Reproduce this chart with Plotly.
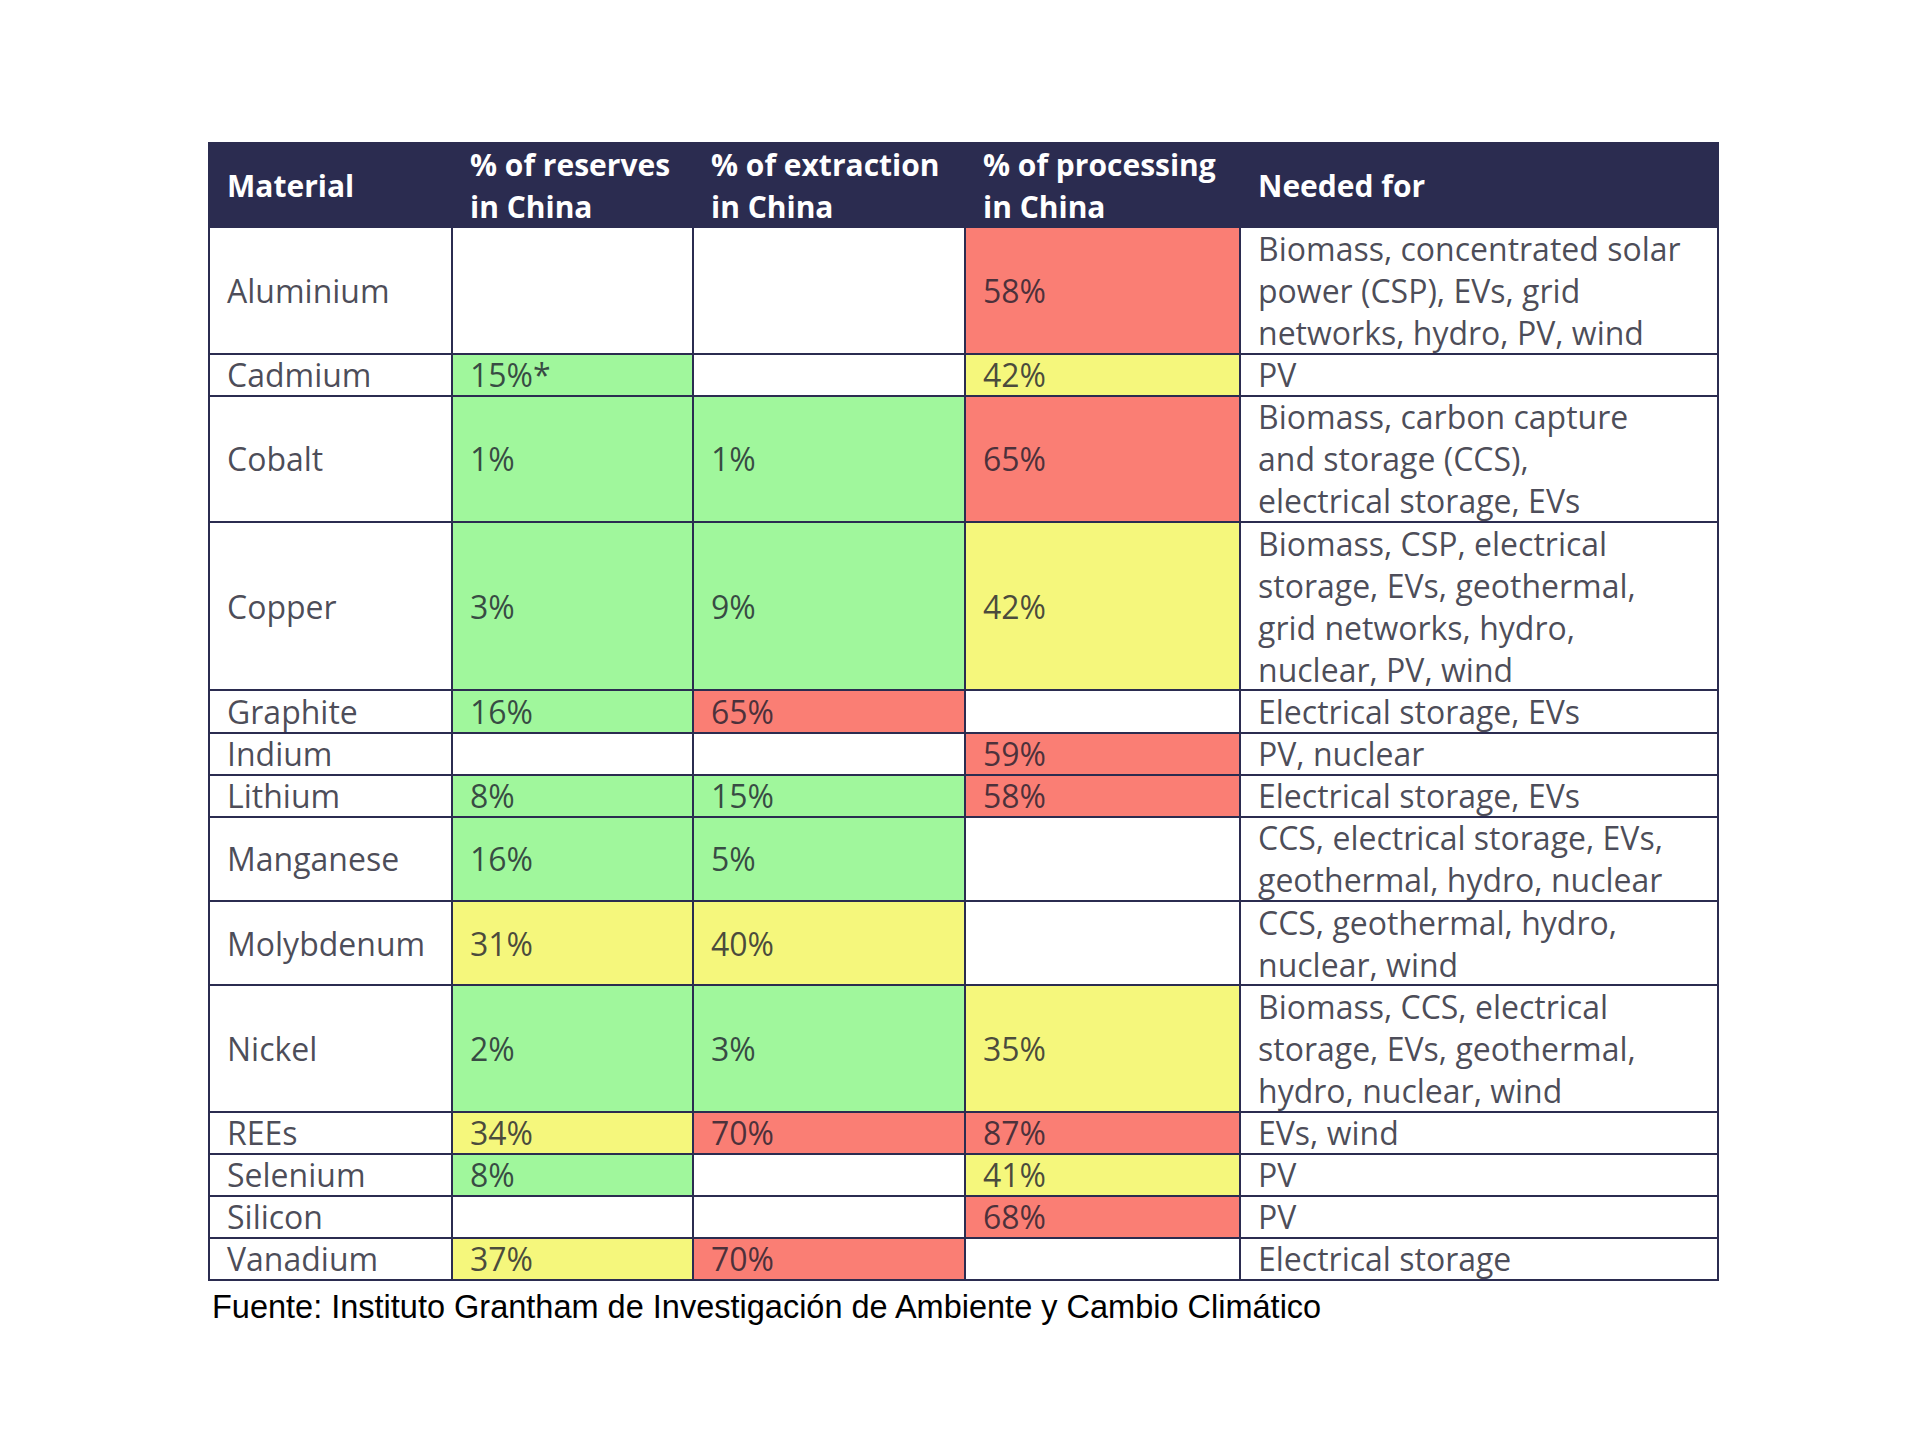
import plotly.graph_objects as go

# ---------------- data ----------------
headers = ["Material", "% of reserves<br>in China", "% of extraction<br>in China",
           "% of processing<br>in China", "Needed for"]

materials = ["Aluminium", "Cadmium", "Cobalt", "Copper", "Graphite", "Indium", "Lithium",
             "Manganese", "Molybdenum", "Nickel", "REEs", "Selenium", "Silicon", "Vanadium"]

reserves = ["", "15%*", "1%", "3%", "16%", "", "8%", "16%", "31%", "2%", "34%", "8%", "", "37%"]
extraction = ["", "", "1%", "9%", "65%", "", "15%", "5%", "40%", "3%", "70%", "", "", "70%"]
processing = ["58%", "42%", "65%", "42%", "", "59%", "58%", "", "", "35%", "87%", "41%", "68%", ""]

needed_for = [
    ["Biomass, concentrated solar", "power (CSP), EVs, grid", "networks, hydro, PV, wind"],
    ["PV"],
    ["Biomass, carbon capture", "and storage (CCS),", "electrical storage, EVs"],
    ["Biomass, CSP, electrical", "storage, EVs, geothermal,", "grid networks, hydro,", "nuclear, PV, wind"],
    ["Electrical storage, EVs"],
    ["PV, nuclear"],
    ["Electrical storage, EVs"],
    ["CCS, electrical storage, EVs,", "geothermal, hydro, nuclear"],
    ["CCS, geothermal, hydro,", "nuclear, wind"],
    ["Biomass, CCS, electrical", "storage, EVs, geothermal,", "hydro, nuclear, wind"],
    ["EVs, wind"],
    ["PV"],
    ["PV"],
    ["Electrical storage"],
]

source = "Fuente: Instituto Grantham de Investigación de Ambiente y Cambio Climático"

# ---------------- styles ----------------
COL_W = [243, 241, 272, 275, 478]
HEADER_LINES = 2
NAVY = "#2b2c50"
WHITE = "#ffffff"
GREEN = "#a0f79c"
YELLOW = "#f5f77c"
RED = "#fa7e74"
TEXT = "rgba(28,28,44,0.8)"
FONT = "Open Sans"
PAD = 16
BODY_SIZE = 32
HEAD_SIZE = 30

def code(v):
    if not v:
        return 0
    n = float(v.replace("%", "").replace("*", ""))
    if n < 30:
        return 1
    if n < 50:
        return 2
    return 3

# edges
x_edges = [0]
for w in COL_W:
    x_edges.append(x_edges[-1] + w)
row_lines = [len(n) for n in needed_for]
y_edges = [0, HEADER_LINES]
for n in row_lines:
    y_edges.append(y_edges[-1] + n)
total_lines = y_edges[-1]

# z matrix (rows x cols)
z = [[4, 4, 4, 4, 4]]
for i in range(len(materials)):
    z.append([0, code(reserves[i]), code(extraction[i]), code(processing[i]), 0])

colors = [WHITE, GREEN, YELLOW, RED, NAVY]
cs = []
for k, c in enumerate(colors):
    cs.append([k / 5, c])
    cs.append([(k + 1) / 5, c])

fig = go.Figure(go.Heatmap(
    x=x_edges, y=y_edges, z=z, colorscale=cs, zmin=-0.5, zmax=4.5,
    showscale=False, xgap=2, ygap=2, hoverinfo="skip",
))

ann = []
# header text
for j, h in enumerate(headers):
    parts = h.split("<br>")
    for k, p in enumerate(parts):
        yy = HEADER_LINES / 2 if len(parts) == 1 else k + 0.5
        ann.append(dict(x=x_edges[j] + PAD, y=yy, text=p, showarrow=False,
                        xanchor="left", yanchor="middle", xref="x", yref="y",
                        font=dict(family=FONT, size=HEAD_SIZE, color=WHITE, weight=700)))

cols = [materials, reserves, extraction, processing]
for i in range(len(materials)):
    top = y_edges[i + 1]
    mid = top + row_lines[i] / 2
    for j, col in enumerate(cols):
        if col[i]:
            ann.append(dict(x=x_edges[j] + PAD, y=mid, text=col[i], showarrow=False,
                            xanchor="left", yanchor="middle", xref="x", yref="y",
                            font=dict(family=FONT, size=BODY_SIZE, color=TEXT)))
    for k, line in enumerate(needed_for[i]):
        ann.append(dict(x=x_edges[4] + PAD, y=top + k + 0.5, text=line, showarrow=False,
                        xanchor="left", yanchor="middle", xref="x", yref="y",
                        font=dict(family=FONT, size=BODY_SIZE, color=TEXT)))

ann.append(dict(x=0, y=total_lines, text=source, showarrow=False, xanchor="left",
                yanchor="middle", xref="x", yref="y", xshift=1, yshift=-27,
                font=dict(family="Liberation Sans", size=32.5, color="#000000")))

shapes = [dict(type="rect", xref="paper", yref="paper", x0=0, x1=1, y0=0, y1=1,
               line=dict(color=NAVY, width=2), fillcolor="rgba(0,0,0,0)", layer="above")]

fig.update_layout(
    width=1920, height=1451,
    margin=dict(l=201, r=210, t=135, b=179, pad=0),
    paper_bgcolor="#ffffff", plot_bgcolor=NAVY,
    xaxis=dict(range=[0, x_edges[-1]], showgrid=False, zeroline=False, showticklabels=False,
               fixedrange=True),
    yaxis=dict(range=[total_lines, 0], showgrid=False, zeroline=False, showticklabels=False,
               fixedrange=True),
    annotations=ann, shapes=shapes, showlegend=False,
)

fig.write_html("out.html")
